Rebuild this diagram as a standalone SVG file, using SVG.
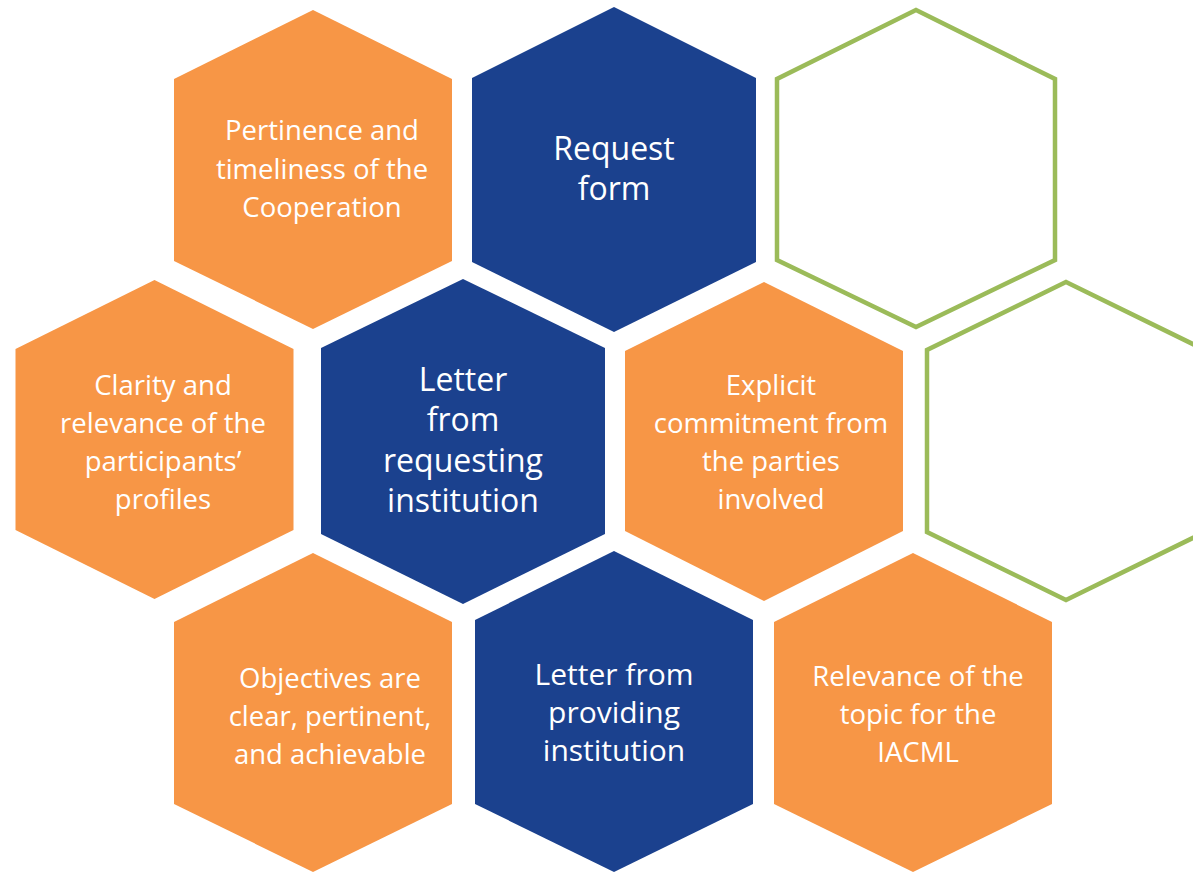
<svg xmlns="http://www.w3.org/2000/svg" width="1193" height="872" viewBox="0 0 1193 872">
  <style>
    .orange { fill: #F79646; }
    .blue { fill: #1B418E; }
    .outline { fill: none; stroke: #9BBB59; stroke-width: 4.5; stroke-linejoin: miter; }
    text { font-family: "Open Sans", "Liberation Sans", sans-serif; fill: #FFFFFF; text-anchor: middle; }
    .t-small { font-size: 27.5px; }
    .t-large { font-size: 32px; }
    .t-mid { font-size: 30px; }
  </style>
  <rect width="1193" height="872" fill="#FFFFFF"/>

  <!-- top row -->
  <g id="hex-pertinence">
    <polygon class="orange" points="313,10 452,79 452,261 313,329 174,261 174,79"/>
    <text class="t-small"><tspan x="322" y="140">Pertinence and</tspan><tspan x="322" y="179">timeliness of the</tspan><tspan x="322" y="217">Cooperation</tspan></text>
  </g>
  <g id="hex-request-form">
    <polygon class="blue" points="614,7 756,78 756,262 614,332 472,262 472,78"/>
    <text class="t-large"><tspan x="614" y="160">Request</tspan><tspan x="614" y="200">form</tspan></text>
  </g>
  <g id="hex-empty-top">
    <polygon class="outline" points="916,10 1055,79 1055,260 916,327 777,260 777,79"/>
  </g>

  <!-- middle row -->
  <g id="hex-clarity">
    <polygon class="orange" points="154.5,280 293.5,349 293.5,530 154.5,599 15.5,530 15.5,349"/>
    <text class="t-small"><tspan x="163" y="395">Clarity and</tspan><tspan x="163" y="433">relevance of the</tspan><tspan x="163" y="471">participants’</tspan><tspan x="163" y="509">profiles</tspan></text>
  </g>
  <g id="hex-letter-requesting">
    <polygon class="blue" points="463,279 605,348 605,534 463,604 321,534 321,348"/>
    <text class="t-large"><tspan x="463" y="391">Letter</tspan><tspan x="463" y="431">from</tspan><tspan x="463" y="472">requesting</tspan><tspan x="463" y="512">institution</tspan></text>
  </g>
  <g id="hex-commitment">
    <polygon class="orange" points="764,282 903,351 903,531 764,601 625,531 625,351"/>
    <text class="t-small"><tspan x="771" y="395">Explicit</tspan><tspan x="771" y="433">commitment from</tspan><tspan x="771" y="471">the parties</tspan><tspan x="771" y="509">involved</tspan></text>
  </g>
  <g id="hex-empty-right">
    <polygon class="outline" points="1066,282 1205,350 1205,532 1066,600 927,532 927,350"/>
  </g>

  <!-- bottom row -->
  <g id="hex-objectives">
    <polygon class="orange" points="313,553 452,622 452,804 313,872 174,804 174,622"/>
    <text class="t-small"><tspan x="330" y="688">Objectives are</tspan><tspan x="330" y="726">clear, pertinent,</tspan><tspan x="330" y="764">and achievable</tspan></text>
  </g>
  <g id="hex-letter-providing">
    <polygon class="blue" points="614,551 753,620 753,804 614,872 475,804 475,620"/>
    <text class="t-mid"><tspan x="614" y="685">Letter from</tspan><tspan x="614" y="723">providing</tspan><tspan x="614" y="761">institution</tspan></text>
  </g>
  <g id="hex-topic">
    <polygon class="orange" points="913,553 1052,622 1052,804 913,872 774,804 774,622"/>
    <text class="t-small"><tspan x="918" y="686">Relevance of the</tspan><tspan x="918" y="724">topic for the</tspan><tspan x="918" y="762">IACML</tspan></text>
  </g>

  <!-- no connectors in this layout -->
  <g id="connectors"/>
</svg>
